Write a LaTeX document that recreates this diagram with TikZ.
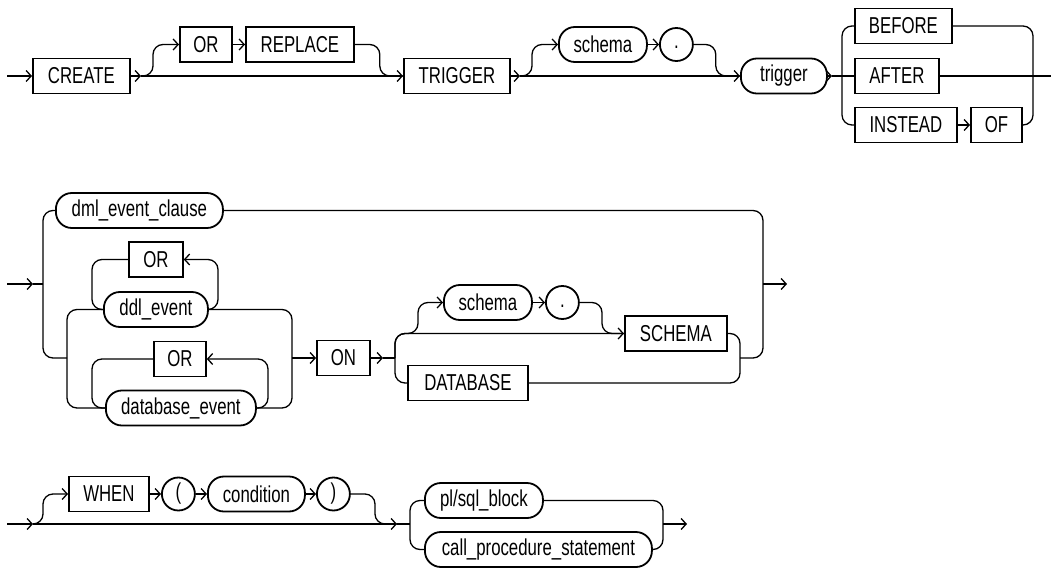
\documentclass[tikz,border=0pt]{standalone}
\usepackage{fontspec}
\setmainfont[FakeStretch=0.73]{Liberation Sans}
\usetikzlibrary{arrows.meta}
\tikzset{kw/.style = {draw, rectangle, sharp corners, line width=1.8pt,
                      inner sep=0, minimum height=35pt, anchor=west}}
\tikzset{ident/.style = {draw, rectangle, rounded corners=16pt, line width=1.8pt,
                         inner sep=0, minimum height=35pt, anchor=west}}
\tikzset{sym/.style = {draw, circle, line width=1.8pt, inner sep=0,
                       minimum size=33pt, anchor=west}}
\tikzset{dotsym/.style = {sym, text height=9pt, text depth=0pt}}
\tikzset{rc/.style = {rounded corners=10pt}}

\begin{document}
\begin{tikzpicture}[x=1pt, y=-1pt, line width=1.3pt,
    >={Straight Barb[length=5pt,width=11pt]},
    font=\fontsize{23}{27}\selectfont]
    \useasboundingbox (0,0) rectangle (1051,567);
    % first line
    \coordinate (s1) at (7,76);
    \coordinate (b1) at (141,76);
    \coordinate (b2) at (520,76);
    \coordinate (b3) at (832,76);
    \coordinate (c1) at (842,76);
    \coordinate (r1) at (1033,76);
    \coordinate (e1) at (1051,76);
    \node[kw, minimum width=97pt] (create) at (32,76) {CREATE};
    \node[kw, minimum width=52pt] (or1) at (179,44.5) {OR};
    \node[kw, minimum width=108pt] (replace) at (245,44.5) {REPLACE};
    \node[kw, minimum width=106pt] (triggerkw) at (403,76) {TRIGGER};
    \node[ident, minimum width=88pt] (schema1) at (558,44.5) {schema};
    \node[dotsym] (dot1) at (659,44.5) {.};
    \node[ident, minimum width=86pt] (trigger) at (740,76) {trigger};
    \node[kw, minimum width=97pt] (before) at (854,26) {BEFORE};
    \node[kw, minimum width=84pt] (after) at (854,76) {AFTER};
    \node[kw, minimum width=102pt] (instead) at (854,125) {INSTEAD};
    \node[kw, minimum width=51pt] (of) at (970,125) {OF};
    \draw[->] (s1) -- (create.west);
    \draw[->] (create.east) -- (b1);
    \draw[->] (b1) -- (triggerkw.west);
    \draw[->, rc] (b1) -- ++(12,0) |- (or1.west);
    \draw[->] (or1) -- (replace);
    \draw[rc] (replace.east) -- ++(25,0) |- (triggerkw.west);
    \draw[->] (triggerkw.east) -- (b2);
    \draw[->] (b2) -- (trigger.west);
    \draw[->, rc] (b2) -- ++(12,0) |- (schema1.west);
    \draw[->] (schema1) -- (dot1);
    \draw[rc] (dot1.east) -- ++(22,0) |- (trigger.west);
    \draw[->] (trigger.east) -- (b3);
    \draw (b3) -- (after.west);
    \draw[rc] (before.west) -| (c1) |- (instead.west);
    \draw[->] (instead) -- (of);
    \draw[rc] (before.east) -| (r1) |- (of.east);
    \draw (after.east) -- (e1);
    % second line
    \coordinate (s2) at (7,284);
    \coordinate (a2) at (33,284);
    \coordinate (l2) at (43,284);
    \coordinate (i2) at (67,358);
    \coordinate (r2) at (292,358);
    \coordinate (b4) at (383,358);
    \coordinate (c2) at (395,358);
    \coordinate (q2) at (740,358);
    \coordinate (o2) at (763,284);
    \coordinate (e2) at (787,284);
    \node[ident, minimum width=167pt] (dml) at (55,210.5) {dml\_event\_clause};
    \node[kw, minimum width=54pt] (or2) at (128,259.5) {OR};
    \node[ident, minimum width=104pt] (ddl) at (103,309.5) {ddl\_event};
    \node[kw, minimum width=52pt] (or3) at (153,359) {OR};
    \node[ident, minimum width=150pt] (dbevent) at (105,408) {database\_event};
    \node[kw, minimum width=53pt] (on) at (316,358) {ON};
    \node[ident, minimum width=88pt] (schema2) at (443,302.5) {schema};
    \node[dotsym] (dot2) at (545,302.5) {.};
    \node[kw, minimum width=102pt] (schemakw) at (624,333.5) {SCHEMA};
    \node[kw, minimum width=120pt] (database) at (407,383) {DATABASE};
    \draw[->] (s2) -- (a2);
    \draw (a2) -- (l2);
    \draw[rc] (dml.west) -| (l2) |- (i2);
    \draw[rc] (ddl.west) -| (i2) |- (dbevent.west);
    \draw[rc] (or2.west) -| (92,309.5) -- (ddl.west);
    \draw[->, rc] (ddl.east) -- (218,309.5) |- (or2.east);
    \draw[rc] (or3.west) -| (92,408) -- (dbevent.west);
    \draw[->, rc] (dbevent.east) -- (268,408) |- (or3.east);
    \draw[rc] (ddl.east) -| (r2) |- (dbevent.east);
    \draw[->] (r2) -- (on.west);
    \draw[->] (on.east) -- (b4);
    \draw (b4) -- (c2);
    \draw[->, rc] (c2) |- (schemakw.west);
    \draw[->, rc] (c2) |- (418,333.5) |- (schema2.west);
    \draw[rc] (c2) |- (database.west);
    \draw[->] (schema2) -- (dot2);
    \draw[rc] (dot2.east) -- (602,302.5) |- (schemakw.west);
    \draw[rc] (schemakw.east) -| (q2) |- (database.east);
    \draw[rc] (dml.east) -| (o2) |- (q2);
    \draw[->] (o2) -- (e2);
    % third line
    \coordinate (s3) at (7,524);
    \coordinate (a6) at (33,524);
    \coordinate (a7) at (397,524);
    \coordinate (c3) at (410,524);
    \coordinate (r3) at (663,524);
    \coordinate (e3) at (687,524);
    \node[kw, minimum width=80pt] (when) at (68,494) {WHEN};
    \node[sym] (lpar) at (161,494) {(};
    \node[ident, minimum width=97pt] (cond) at (207,494) {condition};
    \node[sym] (rpar) at (316,494) {)};
    \node[ident, minimum width=118pt] (plsql) at (424,500.5) {pl/sql\_block};
    \node[ident, minimum width=227pt] (callproc) at (424,549.5) {call\_procedure\_statement};
    \draw[->] (s3) -- (a6);
    \draw[->] (a6) -- (a7);
    \draw (a7) -- (c3);
    \draw[->, rc] (a6) -- (43,524) |- (when.west);
    \draw[->] (when) -- (lpar);
    \draw[->] (lpar) -- (cond);
    \draw[->] (cond) -- (rpar);
    \draw[rc] (rpar.east) -- (375,494) |- (a7);
    \draw[rc] (plsql.west) -| (c3) |- (callproc.west);
    \draw[rc] (plsql.east) -| (r3) |- (callproc.east);
    \draw[->] (r3) -- (e3);
\end{tikzpicture}
\end{document}
